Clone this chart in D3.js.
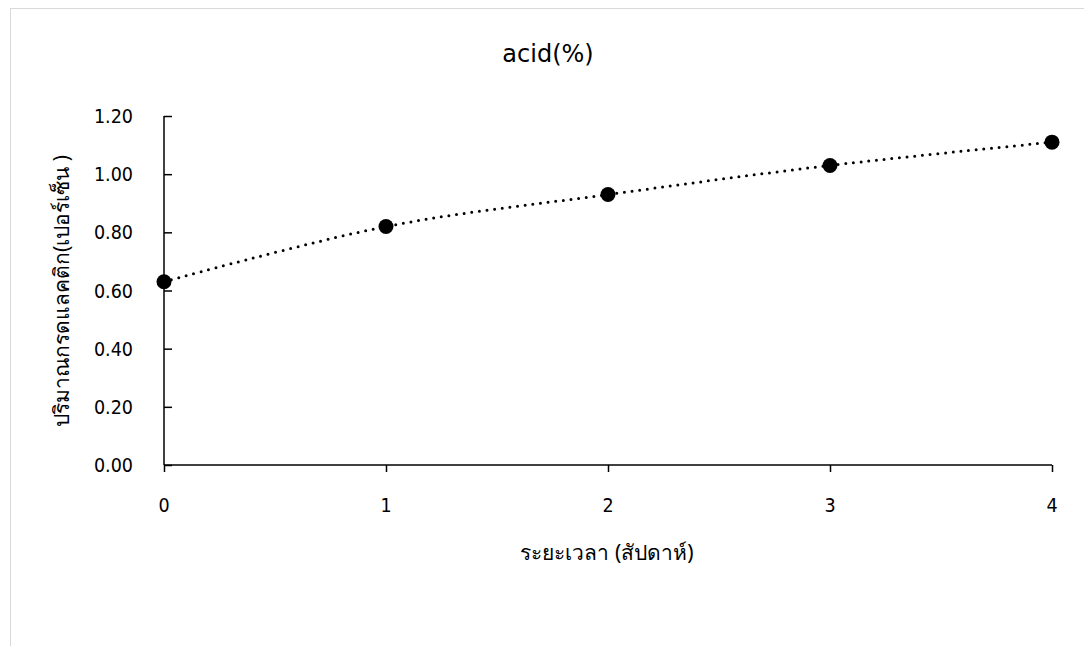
<!DOCTYPE html>
<html><head><meta charset="utf-8">
<script src="https://cdn.jsdelivr.net/npm/d3@7"></script>
<style>
body{margin:0;background:#fff;}
text{fill:#000;}
</style></head>
<body>
<svg id="c" width="1084" height="646"></svg>
<script>
const weeks = [0, 1, 2, 3, 4];
const acid = [0.63, 0.82, 0.93, 1.03, 1.11];
const yTicks = [0, 0.2, 0.4, 0.6, 0.8, 1.0, 1.2];
const title = "acid(%)";
const xTitle = "ระยะเวลา (สัปดาห์)";
const yTitle = "ปริมาณกรดแลคติก(เปอร์เซ็น )";

const svg = d3.select("#c");
svg.append("rect").attr("x",10.5).attr("y",8.5).attr("width",1090).attr("height",650)
  .attr("fill","#fff").attr("stroke","#d9d9d9").attr("stroke-width",1);

const x = d3.scaleLinear().domain([0,4]).range([164,1052]);
const y = d3.scaleLinear().domain([0,1.2]).range([465,116]);

const tickFont = "'DejaVu Sans Condensed','DejaVu Sans',sans-serif";
const thaiFont = "'Noto Sans','DejaVu Sans',sans-serif";

const gy = svg.append("g").attr("transform","translate(164,0)")
  .call(d3.axisRight(y).tickValues(yTicks).tickSize(8).tickFormat(""));
gy.select(".domain").attr("stroke","#000").attr("stroke-width",1.5).attr("d","M0,116V465");
gy.selectAll(".tick line").attr("stroke","#000").attr("stroke-width",1.5);
svg.append("g").selectAll("text").data(yTicks).join("text")
  .attr("x",133).attr("y",d=>y(d)).attr("dy","0.36em").attr("text-anchor","end")
  .style("font-family",tickFont).style("font-size","19.5px").text(d=>d.toFixed(2));

const gx = svg.append("g").attr("transform","translate(0,465)")
  .call(d3.axisBottom(x).tickValues(weeks).tickSize(7).tickFormat(""));
gx.select(".domain").attr("stroke","#000").attr("stroke-width",1.5).attr("d","M164,0H1052");
gx.selectAll(".tick line").attr("stroke","#000").attr("stroke-width",1.5);
svg.append("g").selectAll("text").data(weeks).join("text")
  .attr("x",d=>x(d)).attr("y",504.5).attr("dy","0.36em").attr("text-anchor","middle")
  .style("font-family",tickFont).style("font-size","19.5px").text(d=>d);

const line = d3.line().x((d,i)=>x(weeks[i])).y(d=>y(d)).curve(d3.curveCatmullRom.alpha(0));
svg.append("path").datum(acid).attr("d",line).attr("fill","none")
  .attr("stroke","#000").attr("stroke-width",3).attr("stroke-linecap","round")
  .attr("stroke-dasharray","0 7.7");
svg.append("g").selectAll("circle").data(acid).join("circle")
  .attr("cx",(d,i)=>x(weeks[i])).attr("cy",d=>y(d)).attr("r",7.5).attr("fill","#000");

svg.append("text").attr("x",548).attr("y",54).attr("dy","0.35em").attr("text-anchor","middle")
  .style("font-family","'DejaVu Sans',sans-serif").style("font-size","24px").text(title);
svg.append("text").attr("x",607).attr("y",553).attr("dy","0.35em").attr("text-anchor","middle")
  .style("font-family",thaiFont).style("font-size","21px").text(xTitle);
svg.append("text").attr("transform","translate(62,291) rotate(-90)").attr("dy","0.35em")
  .attr("text-anchor","middle").style("font-family",thaiFont).style("font-size","21px").text(yTitle);
</script>
</body></html>
